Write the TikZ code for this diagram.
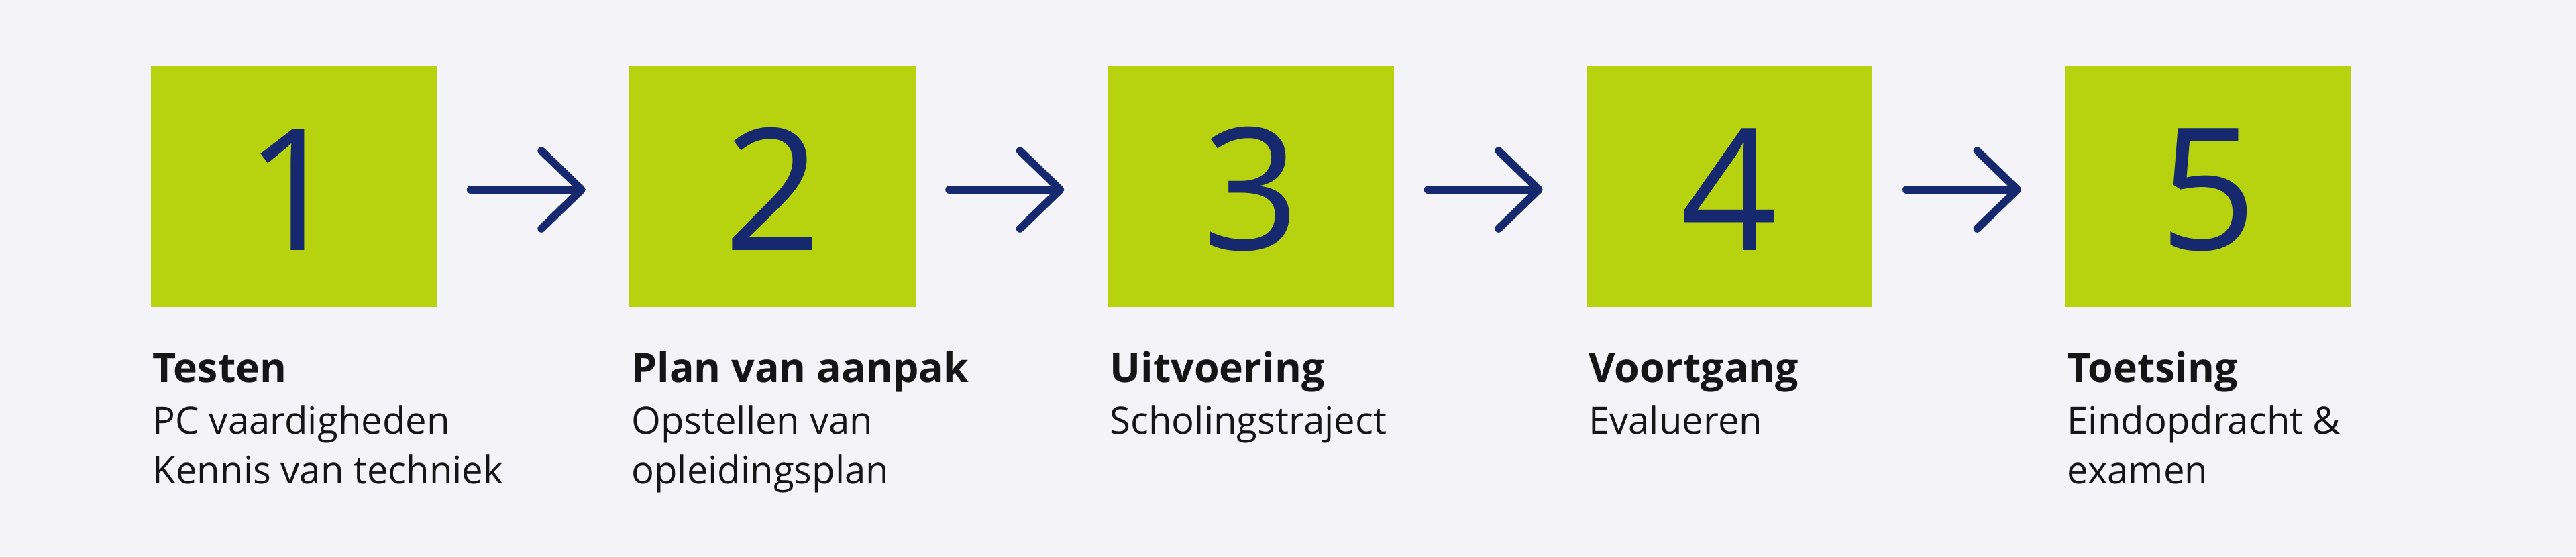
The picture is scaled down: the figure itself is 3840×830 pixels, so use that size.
\documentclass[tikz,border=0pt]{standalone}
\usepackage{fontspec}
\setmainfont{Open Sans}
\usetikzlibrary{positioning, arrows.meta}

\definecolor{lime}{HTML}{B7D20F}
\definecolor{navy}{HTML}{16286E}
\definecolor{paper}{HTML}{F3F3F8}
\definecolor{ink}{HTML}{151515}

\begin{document}
\begin{tikzpicture}[x=0.01cm, y=0.01cm, node distance={71.3mm}, thick,
		box/.style = {fill=lime, minimum width=42.6mm, minimum height=36mm, inner sep=0, text=navy, text height=54.3pt, font=\fontsize{72}{72}\selectfont},
		title/.style = {anchor=base west, inner sep=0, text=ink, font=\bfseries\fontsize{17.3}{21}\selectfont},
		desc/.style = {anchor=north west, inner sep=0, align=left, text=ink, font=\fontsize{16}{21}\selectfont},
		flow/.style = {-{Straight Barb[length=6mm, width=11.6mm, round]}, line width=1.15mm, color=navy, line cap=round, shorten <=4.9mm, shorten >=6.4mm}]
		\fill[paper] (0,0) rectangle (3840,-830);
		
		\node[box] (b1) at (438,-278) {1};
		\node[box] (b2) [right of=b1] {2};
		\node[box] (b3) [right of=b2] {3};
		\node[box] (b4) [right of=b3] {4};
		\node[box] (b5) [right of=b4] {5};
		
		\draw[flow] ([yshift=-0.5mm]b1.east) -- ([yshift=-0.5mm]b2.west);
		\draw[flow] ([yshift=-0.5mm]b2.east) -- ([yshift=-0.5mm]b3.west);
		\draw[flow] ([yshift=-0.5mm]b3.east) -- ([yshift=-0.5mm]b4.west);
		\draw[flow] ([yshift=-0.5mm]b4.east) -- ([yshift=-0.5mm]b5.west);
		
		\node[title] (t1) at ([xshift=0.3mm, yshift=-11.1mm]b1.south west) {Testen};
		\node[title] (t2) at ([xshift=0.3mm, yshift=-11.1mm]b2.south west) {Plan van aanpak};
		\node[title] (t3) at ([xshift=0.3mm, yshift=-11.1mm]b3.south west) {Uitvoering};
		\node[title] (t4) at ([xshift=0.3mm, yshift=-11.1mm]b4.south west) {Voortgang};
		\node[title] (t5) at ([xshift=0.3mm, yshift=-11.1mm]b5.south west) {Toetsing};
		
		\node[desc] (d1) at ([yshift=-3.3mm]t1.base west) {PC vaardigheden\\Kennis van techniek};
		\node[desc] (d2) at ([yshift=-3.3mm]t2.base west) {Opstellen van\\opleidingsplan};
		\node[desc] (d3) at ([yshift=-3.3mm]t3.base west) {Scholingstraject};
		\node[desc] (d4) at ([yshift=-3.3mm]t4.base west) {Evalueren};
		\node[desc] (d5) at ([yshift=-3.3mm]t5.base west) {Eindopdracht \&\\examen};
	\end{tikzpicture}
\end{document}
